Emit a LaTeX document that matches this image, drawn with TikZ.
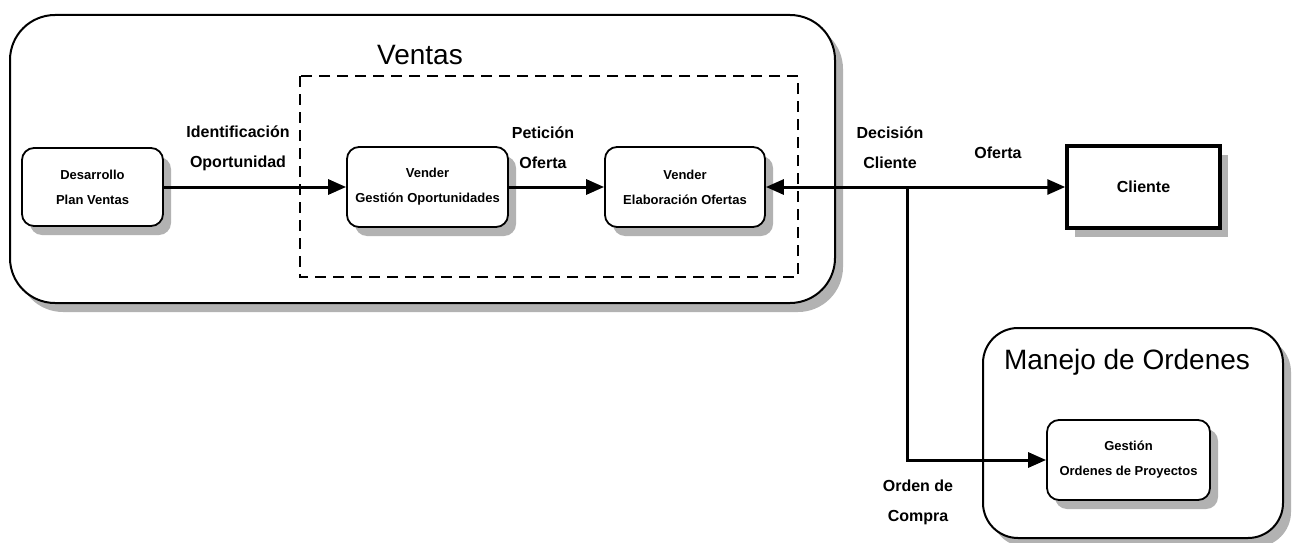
\documentclass[tikz,border=0pt]{standalone}
\usepackage{fontspec}
\setmainfont{Liberation Sans}
\usetikzlibrary{arrows.meta,shadows}
\tikzset{
  shade/.style={drop shadow={shadow xshift=8pt,shadow yshift=-9pt,fill=gray!60,opacity=1}},
  procbox/.style={draw,line width=1.8pt,rounded corners=12pt,fill=white,shade,
    align=center,inner sep=0pt,font=\bfseries\fontsize{13}{25}\selectfont},
  flowlabel/.style={align=center,inner sep=0pt,font=\bfseries\fontsize{16}{30}\selectfont},
  grouplabel/.style={inner sep=0pt,font=\fontsize{28}{32}\selectfont},
  conn/.style={line width=3pt,-{Triangle[length=18pt,width=15pt]}},
  groupbox/.style={line width=2pt,rounded corners=#1,fill=white,shade},
}
\begin{document}
\begin{tikzpicture}[x=1pt,y=-1pt]
\useasboundingbox (0,0) rectangle (1292,543);

% process groups
\draw[groupbox=45pt] (10,15) rectangle (835,303);
\draw[groupbox=35pt] (983,328) rectangle (1283,538);
\draw[line width=2.5pt,dash pattern=on 11pt off 7pt] (300,76) rectangle (798,277);
\node[grouplabel] (ventas) at (420,55) {Ventas};
\node[grouplabel] (manejo) at (1127,362) {Manejo de Ordenes};

% activities
\node[procbox,minimum width=141pt,minimum height=78pt] (desa) at (92.5,187) {Desarrollo\\Plan Ventas};
\node[procbox,minimum width=161pt,minimum height=80pt] (vgo) at (427.5,187) {Vender\\Gestión Oportunidades};
\node[procbox,minimum width=160pt,minimum height=80pt] (velab) at (685,187) {Vender\\Elaboración Ofertas};
\node[draw,line width=3.5pt,fill=white,shade,minimum width=153pt,minimum height=82pt,
      inner sep=0pt,font=\bfseries\fontsize{16}{20}\selectfont] (cli) at (1143.5,187) {Cliente};
\node[procbox,minimum width=163pt,minimum height=80pt] (gop) at (1128.5,460) {Gestión\\Ordenes de Proyectos};

% flows
\coordinate (j) at (907,187);
\draw[conn] (desa.east) -- (vgo.west);
\draw[conn] (vgo.east) -- (velab.west);
\draw[conn] (j) -- (velab.east);
\draw[conn] (j) -- (cli.west);
\draw[conn] (j) |- (gop.west);

% flow labels
\node[flowlabel] (l1) at (238,148) {Identificación\\Oportunidad};
\node[flowlabel] (l2) at (543,148) {Petición\\Oferta};
\node[flowlabel] (l3) at (890,148) {Decisión\\Cliente};
\node[flowlabel] (l4) at (998,153) {Oferta};
\node[flowlabel] (l5) at (918,502) {Orden de\\Compra};
\end{tikzpicture}
\end{document}
